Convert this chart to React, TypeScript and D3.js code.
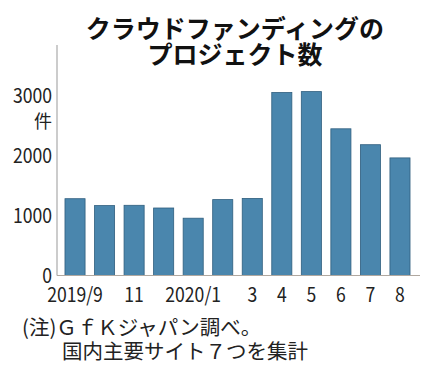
import * as d3 from "d3";
import React from "react";

const W = 432;
const H = 372;

const months = ["2019/9", "10", "11", "12", "2020/1", "2", "3", "4", "5", "6", "7", "8"];
const projects = [1280, 1165, 1170, 1125, 955, 1265, 1285, 3050, 3065, 2445, 2180, 1960];
const shownLabels = ["2019/9", "11", "2020/1", "3", "4", "5", "6", "7", "8"];
const yTicks = [0, 1000, 2000, 3000];
const titleLines = ["クラウドファンディングの", "プロジェクト数"];
const noteLines = ["(注)ＧｆＫジャパン調べ。", "国内主要サイト７つを集計"];

const FONT = "'Noto Sans CJK JP', 'Noto Sans', sans-serif";

// narrow numeral labels like the original
function Narrow({ x, y, anchor, children }: { x: number; y: number; anchor: string; children: React.ReactNode }) {
    return (
        <text
            transform={`translate(${x},${y}) scale(0.88,1)`}
            textAnchor={anchor}
            fontSize={20}
            fill="#222"
        >
            {children}
        </text>
    );
}

export default function App() {
    const axisX = 57;
    const baseY = 275.5;

    const y = d3.scaleLinear().domain([0, 3000]).range([baseY, baseY - 180]);
    const x = d3
        .scaleBand<string>()
        .domain(months)
        .range([axisX, 418])
        .paddingInner(0.32)
        .paddingOuter(0.27);

    return (
        <svg
            width={W}
            height={H}
            viewBox={`0 0 ${W} ${H}`}
            style={{ position: "absolute", left: 0, top: 0, background: "#fff" }}
            fontFamily={FONT}
        >
            {/* title */}
            {titleLines.map((t, i) => (
                <text
                    key={t}
                    x={235}
                    y={38 + i * 25.5}
                    textAnchor="middle"
                    fontSize={25}
                    fontWeight="bold"
                    fill="#111"
                >
                    {t}
                </text>
            ))}

            {/* bars */}
            {months.map((m, i) => (
                <rect
                    key={m}
                    x={x(m)}
                    y={y(projects[i])}
                    width={x.bandwidth()}
                    height={baseY - y(projects[i])}
                    fill="#4a86ad"
                    stroke="#2f5e7e"
                    strokeWidth={0.8}
                />
            ))}

            {/* axes */}
            <line x1={axisX} x2={axisX} y1={45} y2={baseY} stroke="#aaa" strokeWidth={1.2} />
            <line x1={axisX} x2={420} y1={baseY} y2={baseY} stroke="#b0a8a0" strokeWidth={1.2} />

            {yTicks.map((t) => (
                <Narrow key={t} x={52} y={y(t) + 7} anchor="end">
                    {t}
                </Narrow>
            ))}
            <text x={52} y={y(3000) + 32} textAnchor="end" fontSize={18} fill="#222">
                件
            </text>

            {shownLabels.map((m) => (
                <Narrow key={m} x={(x(m) ?? 0) + x.bandwidth() / 2} y={302} anchor="middle">
                    {m}
                </Narrow>
            ))}

            {/* note */}
            <text x={22} y={335} fontSize={20.5} fill="#222">
                {noteLines[0]}
            </text>
            <text x={62} y={359} fontSize={20.5} fill="#222">
                {noteLines[1]}
            </text>
        </svg>
    );
}
